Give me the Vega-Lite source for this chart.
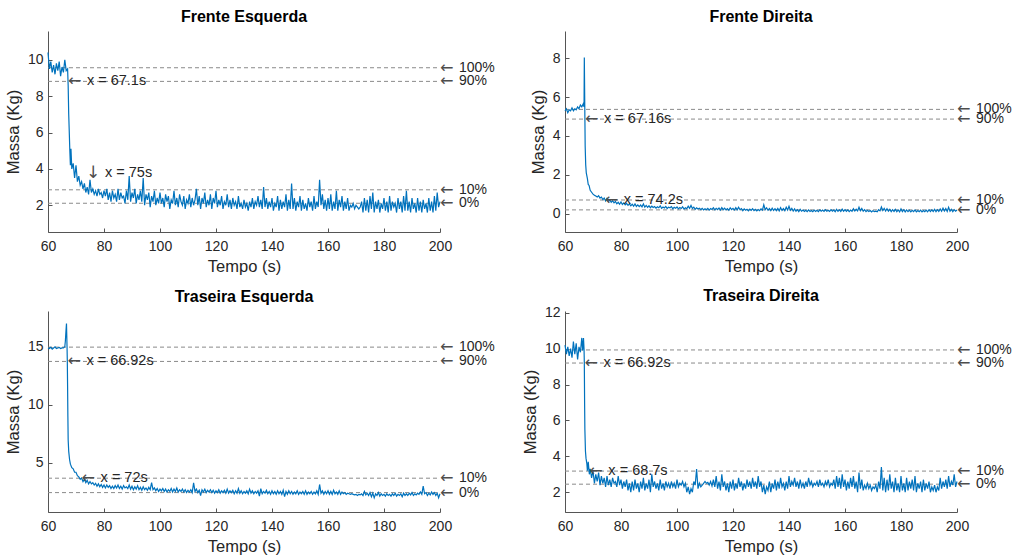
{
"$schema": "https://vega.github.io/schema/vega-lite/v6.json",
"padding": {"left": 5, "top": 9, "right": 5, "bottom": 5},
"config": {
  "font": "Liberation Sans",
  "view": {"stroke": null},
  "axis": {"grid": false, "domainColor": "#555555", "tickColor": "#555555", "labelColor": "#262626", "titleColor": "#262626", "labelFontSize": 14, "titleFontSize": 16.5, "titleFontWeight": "normal", "tickSize": -4, "labelFlush": false, "labelOverlap": false},
  "axisX": {"labelPadding": 11, "titlePadding": 5},
  "axisY": {"labelPadding": 9, "titlePadding": 6},
  "title": {"fontSize": 16, "fontWeight": "bold", "color": "#000000", "offset": 6, "frame": "group"},
  "text": {"fontSize": 14, "color": "#262626"}
},
"datasets": {
"fe": [{"t":60,"m":10.4},{"t":60.5,"m":9.5},{"t":61,"m":9.9},{"t":61.5,"m":9.3},{"t":62,"m":9.7},{"t":62.5,"m":9.2},{"t":63,"m":9.8},{"t":63.5,"m":9.4},{"t":64,"m":9.9},{"t":64.5,"m":9.1},{"t":65,"m":9.6},{"t":65.5,"m":9.3},{"t":66,"m":10.0},{"t":66.5,"m":9.4},{"t":67,"m":9.5},{"t":67.2,"m":8.6},{"t":67.4,"m":7.0},{"t":67.6,"m":6.0},{"t":67.8,"m":5.0},{"t":68,"m":4.2},{"t":68.2,"m":5.1},{"t":68.5,"m":4.0},{"t":69,"m":4.3},{"t":69.5,"m":3.5},{"t":70,"m":4.2},{"t":70.5,"m":3.3},{"t":71,"m":3.6},{"t":71.5,"m":3.1},{"t":72,"m":3.3},{"t":72.5,"m":2.9},{"t":73,"m":3.2},{"t":73.5,"m":2.7},{"t":74,"m":3.0},{"t":74.5,"m":2.6},{"t":75,"m":3.4},{"t":75.5,"m":2.7},{"t":76,"m":2.9},{"t":76.5,"m":2.6},{"t":77,"m":2.8},{"t":77.5,"m":2.5},{"t":78,"m":2.9},{"t":78.5,"m":2.6},{"t":79,"m":2.7},{"t":79.5,"m":2.4},{"t":80,"m":2.8},{"t":80.5,"m":2.5},{"t":81,"m":2.9},{"t":81.5,"m":2.3},{"t":82,"m":2.7},{"t":82.5,"m":2.2},{"t":83,"m":2.8},{"t":83.5,"m":2.4},{"t":84,"m":2.6},{"t":84.5,"m":2.2},{"t":85,"m":2.9},{"t":85.5,"m":2.3},{"t":86,"m":2.7},{"t":86.5,"m":2.4},{"t":87,"m":2.5},{"t":87.5,"m":2.1},{"t":88,"m":2.8},{"t":88.5,"m":2.3},{"t":89,"m":3.6},{"t":89.5,"m":2.2},{"t":90,"m":2.7},{"t":90.5,"m":2.4},{"t":91,"m":2.9},{"t":91.5,"m":2.1},{"t":92,"m":2.6},{"t":92.5,"m":2.3},{"t":93,"m":2.8},{"t":93.5,"m":2.2},{"t":94,"m":3.5},{"t":94.5,"m":2.0},{"t":95,"m":2.6},{"t":95.5,"m":2.3},{"t":96,"m":2.7},{"t":96.5,"m":1.9},{"t":97,"m":2.5},{"t":97.5,"m":2.2},{"t":98,"m":2.8},{"t":98.5,"m":2.0},{"t":99,"m":2.4},{"t":99.5,"m":2.1},
{"t":100,"m":2.7},{"t":100.5,"m":2.1},{"t":101,"m":2.4},{"t":101.5,"m":1.9},{"t":102,"m":2.6},{"t":102.5,"m":2.2},{"t":103,"m":2.5},{"t":103.5,"m":1.8},{"t":104,"m":2.3},{"t":104.5,"m":2.1},{"t":105,"m":2.8},{"t":105.5,"m":2.0},{"t":106,"m":2.4},{"t":106.5,"m":1.9},{"t":107,"m":2.6},{"t":107.5,"m":2.2},{"t":108,"m":2.0},{"t":108.5,"m":2.5},{"t":109,"m":1.8},{"t":109.5,"m":2.3},{"t":110,"m":2.1},{"t":110.5,"m":2.6},{"t":111,"m":1.9},{"t":111.5,"m":2.4},{"t":112,"m":2.0},{"t":112.5,"m":2.3},{"t":113,"m":2.9},{"t":113.5,"m":2.0},{"t":114,"m":2.5},{"t":114.5,"m":1.8},{"t":115,"m":2.4},{"t":115.5,"m":2.1},{"t":116,"m":2.7},{"t":116.5,"m":1.9},{"t":117,"m":2.3},{"t":117.5,"m":2.0},{"t":118,"m":2.6},{"t":118.5,"m":1.8},{"t":119,"m":2.4},{"t":119.5,"m":2.1},{"t":120,"m":2.8},{"t":120.5,"m":1.9},{"t":121,"m":2.3},{"t":121.5,"m":2.0},{"t":122,"m":2.5},{"t":122.5,"m":1.8},{"t":123,"m":2.2},{"t":123.5,"m":2.0},{"t":124,"m":2.6},{"t":124.5,"m":1.9},{"t":125,"m":2.3},{"t":125.5,"m":1.8},{"t":126,"m":2.4},{"t":126.5,"m":2.0},{"t":127,"m":2.2},{"t":127.5,"m":1.8},{"t":128,"m":2.5},{"t":128.5,"m":1.9},{"t":129,"m":2.1},{"t":129.5,"m":1.8},{"t":130,"m":2.3},{"t":130.5,"m":1.9},{"t":131,"m":2.1},{"t":131.5,"m":1.7},{"t":132,"m":2.2},{"t":132.5,"m":1.9},{"t":133,"m":2.4},{"t":133.5,"m":1.8},{"t":134,"m":2.2},{"t":134.5,"m":2.0},{"t":135,"m":2.5},{"t":135.5,"m":1.9},{"t":136,"m":2.3},{"t":136.5,"m":1.8},{"t":137,"m":3.0},{"t":137.5,"m":1.9},{"t":138,"m":2.4},{"t":138.5,"m":1.8},{"t":139,"m":2.2},{"t":139.5,"m":1.9},{"t":140,"m":2.4},{"t":140.5,"m":1.7},{"t":141,"m":2.1},{"t":141.5,"m":1.9},{"t":142,"m":2.5},{"t":142.5,"m":1.7},{"t":143,"m":2.3},{"t":143.5,"m":1.8},{"t":144,"m":2.2},{"t":144.5,"m":1.9},{"t":145,"m":2.6},{"t":145.5,"m":1.7},{"t":146,"m":2.3},{"t":146.5,"m":1.8},{"t":147,"m":3.2},{"t":147.5,"m":1.8},{"t":148,"m":2.4},{"t":148.5,"m":1.7},{"t":149,"m":2.2},{"t":149.5,"m":1.9},{"t":150,"m":2.5},{"t":150.5,"m":1.7},{"t":151,"m":2.3},{"t":151.5,"m":1.8},{"t":152,"m":2.1},{"t":152.5,"m":1.7},{"t":153,"m":2.4},{"t":153.5,"m":1.9},{"t":154,"m":2.2},{"t":154.5,"m":1.7},{"t":155,"m":2.5},{"t":155.5,"m":1.8},{"t":156,"m":2.2},{"t":156.5,"m":1.9},{"t":157,"m":3.4},{"t":157.5,"m":2.0},{"t":158,"m":2.6},{"t":158.5,"m":1.8},{"t":159,"m":2.3},{"t":159.5,"m":1.7},{"t":160,"m":2.4},{"t":160.5,"m":1.8},{"t":161,"m":2.6},{"t":161.5,"m":1.7},{"t":162,"m":2.2},{"t":162.5,"m":1.8},{"t":163,"m":2.8},{"t":163.5,"m":1.7},{"t":164,"m":2.3},{"t":164.5,"m":1.9},{"t":165,"m":2.5},{"t":165.5,"m":1.7},{"t":166,"m":2.2},{"t":166.5,"m":1.8},{"t":167,"m":2.4},{"t":167.5,"m":1.7},{"t":168,"m":2.0},{"t":168.5,"m":1.9},{"t":169,"m":2.1},{"t":169.5,"m":1.8},{"t":170,"m":2.0},{"t":170.5,"m":1.9},{"t":171,"m":1.8},{"t":171.5,"m":1.9},{"t":172,"m":2.2},{"t":172.5,"m":1.6},{"t":173,"m":2.4},{"t":173.5,"m":1.7},{"t":174,"m":2.3},{"t":174.5,"m":1.6},{"t":175,"m":2.5},{"t":175.5,"m":1.8},{"t":176,"m":2.7},{"t":176.5,"m":1.6},{"t":177,"m":2.2},{"t":177.5,"m":1.8},{"t":178,"m":2.3},{"t":178.5,"m":1.6},{"t":179,"m":2.1},{"t":179.5,"m":1.8},{"t":180,"m":2.4},{"t":180.5,"m":1.7},{"t":181,"m":2.2},{"t":181.5,"m":1.6},{"t":182,"m":2.5},{"t":182.5,"m":1.7},{"t":183,"m":2.2},{"t":183.5,"m":1.9},{"t":184,"m":2.1},{"t":184.5,"m":1.6},{"t":185,"m":2.4},{"t":185.5,"m":1.8},{"t":186,"m":2.2},{"t":186.5,"m":1.6},{"t":187,"m":2.5},{"t":187.5,"m":1.7},{"t":188,"m":2.8},{"t":188.5,"m":1.7},{"t":189,"m":2.2},{"t":189.5,"m":1.6},{"t":190,"m":2.4},{"t":190.5,"m":1.8},{"t":191,"m":2.1},{"t":191.5,"m":1.6},{"t":192,"m":2.4},{"t":192.5,"m":1.7},{"t":193,"m":2.2},{"t":193.5,"m":1.6},{"t":194,"m":2.3},{"t":194.5,"m":1.8},{"t":195,"m":2.1},{"t":195.5,"m":1.6},{"t":196,"m":2.4},{"t":196.5,"m":1.7},{"t":197,"m":2.2},{"t":197.5,"m":1.6},{"t":198,"m":2.5},{"t":198.5,"m":1.7},{"t":199,"m":2.7},{"t":199.5,"m":1.9},{"t":200,"m":2.2}],
"fd": [{"t":60,"m":5.3},{"t":60.5,"m":5.4},{"t":61,"m":5.2},{"t":61.5,"m":5.35},{"t":62,"m":5.3},{"t":62.5,"m":5.45},{"t":63,"m":5.3},{"t":63.5,"m":5.4},{"t":64,"m":5.35},{"t":64.5,"m":5.5},{"t":65,"m":5.4},{"t":65.5,"m":5.6},{"t":66,"m":5.5},{"t":66.5,"m":5.65},{"t":66.8,"m":5.5},{"t":66.9,"m":8.05},{"t":67,"m":6.5},{"t":67.1,"m":5.0},{"t":67.2,"m":3.5},{"t":67.4,"m":2.5},{"t":67.6,"m":2.1},{"t":68,"m":1.8},{"t":68.3,"m":1.5},{"t":68.6,"m":1.45},{"t":69,"m":1.2},{"t":69.5,"m":1.1},{"t":70,"m":1.0},{"t":70.5,"m":0.95},{"t":71,"m":0.9},{"t":71.5,"m":0.85},{"t":72,"m":0.92},{"t":72.5,"m":0.8},{"t":73,"m":0.85},{"t":73.5,"m":0.72},{"t":74,"m":0.8},{"t":74.5,"m":0.65},{"t":75,"m":0.78},{"t":75.5,"m":0.62},{"t":76,"m":0.7},{"t":76.5,"m":0.58},{"t":77,"m":0.66},{"t":77.5,"m":0.55},{"t":78,"m":0.62},{"t":78.5,"m":0.5},{"t":79,"m":0.58},{"t":79.5,"m":0.48},{"t":80,"m":0.6},{"t":80.5,"m":0.47},{"t":81,"m":0.55},{"t":81.5,"m":0.45},{"t":82,"m":0.52},{"t":82.5,"m":0.42},{"t":83,"m":0.5},{"t":83.5,"m":0.4},{"t":84,"m":0.48},{"t":84.5,"m":0.38},{"t":85,"m":0.5},{"t":85.5,"m":0.37},{"t":86,"m":0.45},{"t":86.5,"m":0.36},{"t":87,"m":0.44},{"t":87.5,"m":0.35},{"t":88,"m":0.5},{"t":88.5,"m":0.33},{"t":89,"m":0.42},{"t":89.5,"m":0.32},
{"t":90,"m":0.4},{"t":90.5,"m":0.3},{"t":91,"m":0.38},{"t":91.5,"m":0.31},{"t":92,"m":0.36},{"t":92.5,"m":0.28},{"t":93,"m":0.35},{"t":93.5,"m":0.3},{"t":94,"m":0.4},{"t":94.5,"m":0.27},{"t":95,"m":0.34},{"t":95.5,"m":0.29},{"t":96,"m":0.37},{"t":96.5,"m":0.26},{"t":97,"m":0.33},{"t":97.5,"m":0.3},{"t":98,"m":0.36},{"t":98.5,"m":0.25},{"t":99,"m":0.32},{"t":99.5,"m":0.27},{"t":100,"m":0.34},{"t":100.5,"m":0.24},{"t":101,"m":0.31},{"t":101.5,"m":0.26},{"t":102,"m":0.35},{"t":102.5,"m":0.23},{"t":103,"m":0.3},{"t":103.5,"m":0.25},{"t":104,"m":0.38},{"t":104.5,"m":0.27},{"t":105,"m":0.42},{"t":105.5,"m":0.26},{"t":106,"m":0.33},{"t":106.5,"m":0.22},{"t":107,"m":0.3},{"t":107.5,"m":0.24},{"t":108,"m":0.28},{"t":108.5,"m":0.2},{"t":109,"m":0.27},{"t":109.5,"m":0.19},{"t":110,"m":0.25},{"t":110.5,"m":0.2},{"t":111,"m":0.27},{"t":111.5,"m":0.18},{"t":112,"m":0.26},{"t":112.5,"m":0.21},{"t":113,"m":0.3},{"t":113.5,"m":0.19},{"t":114,"m":0.27},{"t":114.5,"m":0.2},{"t":115,"m":0.29},{"t":115.5,"m":0.18},{"t":116,"m":0.31},{"t":116.5,"m":0.2},{"t":117,"m":0.28},{"t":117.5,"m":0.19},{"t":118,"m":0.26},{"t":118.5,"m":0.17},{"t":119,"m":0.3},{"t":119.5,"m":0.2},{"t":120,"m":0.27},{"t":120.5,"m":0.18},{"t":121,"m":0.3},{"t":121.5,"m":0.19},{"t":122,"m":0.33},{"t":122.5,"m":0.2},{"t":123,"m":0.26},{"t":123.5,"m":0.15},{"t":124,"m":0.24},{"t":124.5,"m":0.17},{"t":125,"m":0.22},{"t":125.5,"m":0.14},{"t":126,"m":0.23},{"t":126.5,"m":0.16},{"t":127,"m":0.25},{"t":127.5,"m":0.15},{"t":128,"m":0.22},{"t":128.5,"m":0.14},{"t":129,"m":0.21},{"t":129.5,"m":0.15},{"t":130,"m":0.24},{"t":130.5,"m":0.18},{"t":131,"m":0.45},{"t":131.5,"m":0.2},{"t":132,"m":0.3},{"t":132.5,"m":0.17},{"t":133,"m":0.26},{"t":133.5,"m":0.15},{"t":134,"m":0.28},{"t":134.5,"m":0.16},{"t":135,"m":0.25},{"t":135.5,"m":0.15},{"t":136,"m":0.27},{"t":136.5,"m":0.14},{"t":137,"m":0.3},{"t":137.5,"m":0.16},{"t":138,"m":0.26},{"t":138.5,"m":0.15},{"t":139,"m":0.33},{"t":139.5,"m":0.18},{"t":140,"m":0.38},{"t":140.5,"m":0.17},{"t":141,"m":0.27},{"t":141.5,"m":0.13},{"t":142,"m":0.24},{"t":142.5,"m":0.12},{"t":143,"m":0.2},{"t":143.5,"m":0.1},{"t":144,"m":0.22},{"t":144.5,"m":0.12},{"t":145,"m":0.18},{"t":145.5,"m":0.11},{"t":146,"m":0.17},{"t":146.5,"m":0.1},{"t":147,"m":0.19},{"t":147.5,"m":0.11},{"t":148,"m":0.16},{"t":148.5,"m":0.1},{"t":149,"m":0.18},{"t":149.5,"m":0.11},{"t":150,"m":0.17},{"t":150.5,"m":0.1},{"t":151,"m":0.19},{"t":151.5,"m":0.12},{"t":152,"m":0.18},{"t":152.5,"m":0.11},{"t":153,"m":0.2},{"t":153.5,"m":0.12},{"t":154,"m":0.17},{"t":154.5,"m":0.11},{"t":155,"m":0.2},{"t":155.5,"m":0.12},{"t":156,"m":0.18},{"t":156.5,"m":0.1},{"t":157,"m":0.22},{"t":157.5,"m":0.12},{"t":158,"m":0.19},{"t":158.5,"m":0.11},{"t":159,"m":0.23},{"t":159.5,"m":0.12},{"t":160,"m":0.2},{"t":160.5,"m":0.11},{"t":161,"m":0.19},{"t":161.5,"m":0.1},{"t":162,"m":0.18},{"t":162.5,"m":0.12},{"t":163,"m":0.25},{"t":163.5,"m":0.13},{"t":164,"m":0.22},{"t":164.5,"m":0.14},{"t":165,"m":0.33},{"t":165.5,"m":0.15},{"t":166,"m":0.26},{"t":166.5,"m":0.12},{"t":167,"m":0.2},{"t":167.5,"m":0.1},{"t":168,"m":0.17},{"t":168.5,"m":0.11},{"t":169,"m":0.16},{"t":169.5,"m":0.09},{"t":170,"m":0.15},{"t":170.5,"m":0.1},{"t":171,"m":0.12},{"t":171.5,"m":0.09},{"t":172,"m":0.2},{"t":172.5,"m":0.14},{"t":173,"m":0.34},{"t":173.5,"m":0.16},{"t":174,"m":0.27},{"t":174.5,"m":0.13},{"t":175,"m":0.25},{"t":175.5,"m":0.12},{"t":176,"m":0.22},{"t":176.5,"m":0.1},{"t":177,"m":0.2},{"t":177.5,"m":0.11},{"t":178,"m":0.22},{"t":178.5,"m":0.1},{"t":179,"m":0.19},{"t":179.5,"m":0.09},{"t":180,"m":0.24},{"t":180.5,"m":0.1},{"t":181,"m":0.2},{"t":181.5,"m":0.09},{"t":182,"m":0.19},{"t":182.5,"m":0.1},{"t":183,"m":0.18},{"t":183.5,"m":0.09},{"t":184,"m":0.17},{"t":184.5,"m":0.1},{"t":185,"m":0.19},{"t":185.5,"m":0.09},{"t":186,"m":0.16},{"t":186.5,"m":0.1},{"t":187,"m":0.18},{"t":187.5,"m":0.09},{"t":188,"m":0.16},{"t":188.5,"m":0.1},{"t":189,"m":0.18},{"t":189.5,"m":0.09},{"t":190,"m":0.2},{"t":190.5,"m":0.1},{"t":191,"m":0.19},{"t":191.5,"m":0.11},{"t":192,"m":0.22},{"t":192.5,"m":0.1},{"t":193,"m":0.2},{"t":193.5,"m":0.11},{"t":194,"m":0.24},{"t":194.5,"m":0.12},{"t":195,"m":0.28},{"t":195.5,"m":0.13},{"t":196,"m":0.26},{"t":196.5,"m":0.11},{"t":197,"m":0.32},{"t":197.5,"m":0.12},{"t":198,"m":0.22},{"t":198.5,"m":0.1},{"t":199,"m":0.2},{"t":199.5,"m":0.12},{"t":200,"m":0.18}],
"te": [{"t":60,"m":14.9},{"t":60.5,"m":14.85},{"t":61,"m":14.95},{"t":61.5,"m":14.8},{"t":62,"m":14.9},{"t":62.5,"m":15.0},{"t":63,"m":14.85},{"t":63.5,"m":14.9},{"t":64,"m":14.95},{"t":64.5,"m":14.85},{"t":65,"m":14.9},{"t":65.5,"m":14.9},{"t":66,"m":15.0},{"t":66.2,"m":15.5},{"t":66.4,"m":16.3},{"t":66.6,"m":17.0},{"t":66.7,"m":16.0},{"t":66.8,"m":15.0},{"t":66.9,"m":13.7},{"t":67,"m":11.5},{"t":67.1,"m":9.0},{"t":67.2,"m":7.0},{"t":67.4,"m":6.0},{"t":67.7,"m":5.3},{"t":68,"m":4.9},{"t":68.5,"m":4.6},{"t":69,"m":4.5},{"t":69.5,"m":4.2},{"t":70,"m":4.2},{"t":70.5,"m":3.9},{"t":71,"m":3.8},{"t":71.5,"m":3.6},{"t":72,"m":3.7},{"t":72.5,"m":3.4},{"t":73,"m":3.6},{"t":73.5,"m":3.3},{"t":74,"m":3.5},{"t":74.5,"m":3.2},{"t":75,"m":3.4},{"t":75.5,"m":3.2},{"t":76,"m":3.3},{"t":76.5,"m":3.1},{"t":77,"m":3.25},{"t":77.5,"m":3.0},{"t":78,"m":3.2},{"t":78.5,"m":2.95},{"t":79,"m":3.15},{"t":79.5,"m":2.9},{"t":80,"m":3.1},{"t":80.5,"m":2.85},{"t":81,"m":3.1},{"t":81.5,"m":2.9},{"t":82,"m":3.05},{"t":82.5,"m":2.8},
{"t":83,"m":3.0},{"t":83.5,"m":2.8},{"t":84,"m":3.05},{"t":84.5,"m":2.85},{"t":85,"m":3.1},{"t":85.5,"m":2.8},{"t":86,"m":3.0},{"t":86.5,"m":2.75},{"t":87,"m":3.05},{"t":87.5,"m":2.85},{"t":88,"m":2.95},{"t":88.5,"m":2.8},{"t":89,"m":3.1},{"t":89.5,"m":2.75},{"t":90,"m":3.0},{"t":90.5,"m":2.7},{"t":91,"m":2.95},{"t":91.5,"m":2.75},{"t":92,"m":3.05},{"t":92.5,"m":2.7},{"t":93,"m":2.9},{"t":93.5,"m":2.65},{"t":94,"m":2.95},{"t":94.5,"m":2.7},{"t":95,"m":2.85},{"t":95.5,"m":2.65},{"t":96,"m":2.9},{"t":96.5,"m":2.7},{"t":97,"m":3.3},{"t":97.5,"m":2.7},{"t":98,"m":2.85},{"t":98.5,"m":2.6},{"t":99,"m":2.8},{"t":99.5,"m":2.55},{"t":100,"m":2.75},{"t":100.5,"m":2.6},{"t":101,"m":2.8},{"t":101.5,"m":2.55},{"t":102,"m":2.75},{"t":102.5,"m":2.5},{"t":103,"m":2.7},{"t":103.5,"m":2.55},{"t":104,"m":2.8},{"t":104.5,"m":2.5},{"t":105,"m":2.75},{"t":105.5,"m":2.55},{"t":106,"m":2.85},{"t":106.5,"m":2.5},{"t":107,"m":2.7},{"t":107.5,"m":2.55},{"t":108,"m":2.75},{"t":108.5,"m":2.5},{"t":109,"m":2.7},{"t":109.5,"m":2.45},{"t":110,"m":2.65},{"t":110.5,"m":2.5},{"t":111,"m":2.7},{"t":111.5,"m":2.45},{"t":112,"m":3.3},{"t":112.5,"m":2.55},{"t":113,"m":2.75},{"t":113.5,"m":2.45},{"t":114,"m":2.65},{"t":114.5,"m":2.2},{"t":115,"m":2.7},{"t":115.5,"m":2.5},{"t":116,"m":2.75},{"t":116.5,"m":2.45},{"t":117,"m":2.65},{"t":117.5,"m":2.5},{"t":118,"m":2.7},{"t":118.5,"m":2.45},{"t":119,"m":2.65},{"t":119.5,"m":2.4},{"t":120,"m":2.6},{"t":120.5,"m":2.45},{"t":121,"m":2.7},{"t":121.5,"m":2.4},{"t":122,"m":2.6},{"t":122.5,"m":2.45},{"t":123,"m":2.65},{"t":123.5,"m":2.4},{"t":124,"m":2.75},{"t":124.5,"m":2.4},{"t":125,"m":2.6},{"t":125.5,"m":2.45},{"t":126,"m":2.65},{"t":126.5,"m":2.35},{"t":127,"m":2.6},{"t":127.5,"m":2.4},{"t":128,"m":2.8},{"t":128.5,"m":2.4},{"t":129,"m":2.6},{"t":129.5,"m":2.35},{"t":130,"m":2.55},{"t":130.5,"m":2.4},{"t":131,"m":2.6},{"t":131.5,"m":2.35},{"t":132,"m":2.75},{"t":132.5,"m":2.4},{"t":133,"m":2.6},{"t":133.5,"m":2.35},{"t":134,"m":2.55},{"t":134.5,"m":2.4},{"t":135,"m":2.6},{"t":135.5,"m":2.15},{"t":136,"m":2.8},{"t":136.5,"m":2.35},{"t":137,"m":2.55},{"t":137.5,"m":2.4},{"t":138,"m":2.65},{"t":138.5,"m":2.35},{"t":139,"m":2.55},{"t":139.5,"m":2.3},{"t":140,"m":2.6},{"t":140.5,"m":2.35},{"t":141,"m":2.55},{"t":141.5,"m":2.3},{"t":142,"m":2.6},{"t":142.5,"m":2.35},{"t":143,"m":2.55},{"t":143.5,"m":2.3},{"t":144,"m":2.65},{"t":144.5,"m":2.1},{"t":145,"m":2.55},{"t":145.5,"m":2.3},{"t":146,"m":2.6},{"t":146.5,"m":2.35},{"t":147,"m":2.55},{"t":147.5,"m":2.3},{"t":148,"m":2.5},{"t":148.5,"m":2.35},{"t":149,"m":2.6},{"t":149.5,"m":2.3},{"t":150,"m":2.5},{"t":150.5,"m":2.35},{"t":151,"m":2.55},{"t":151.5,"m":2.3},{"t":152,"m":2.6},{"t":152.5,"m":2.3},{"t":153,"m":2.5},{"t":153.5,"m":2.35},{"t":154,"m":2.55},{"t":154.5,"m":2.3},{"t":155,"m":2.5},{"t":155.5,"m":2.35},{"t":156,"m":2.6},{"t":156.5,"m":2.3},{"t":157,"m":3.15},{"t":157.5,"m":2.4},{"t":158,"m":2.6},{"t":158.5,"m":2.3},{"t":159,"m":2.55},{"t":159.5,"m":2.35},{"t":160,"m":2.6},{"t":160.5,"m":2.3},{"t":161,"m":2.55},{"t":161.5,"m":2.3},{"t":162,"m":2.65},{"t":162.5,"m":2.35},{"t":163,"m":2.5},{"t":163.5,"m":2.3},{"t":164,"m":2.6},{"t":164.5,"m":2.3},{"t":165,"m":2.5},{"t":165.5,"m":2.35},{"t":166,"m":2.45},{"t":166.5,"m":2.3},{"t":167,"m":2.4},{"t":167.5,"m":2.35},{"t":168,"m":2.3},{"t":168.5,"m":2.35},{"t":169,"m":2.3},{"t":169.5,"m":2.25},{"t":170,"m":2.3},{"t":170.5,"m":2.2},{"t":171,"m":2.3},{"t":171.5,"m":2.25},{"t":172,"m":2.35},{"t":172.5,"m":2.2},{"t":173,"m":2.55},{"t":173.5,"m":2.25},{"t":174,"m":2.4},{"t":174.5,"m":2.2},{"t":175,"m":2.45},{"t":175.5,"m":2.1},{"t":176,"m":2.4},{"t":176.5,"m":2.0},{"t":177,"m":2.35},{"t":177.5,"m":2.2},{"t":178,"m":2.45},{"t":178.5,"m":2.15},{"t":179,"m":2.35},{"t":179.5,"m":2.2},{"t":180,"m":2.3},{"t":180.5,"m":2.15},{"t":181,"m":2.35},{"t":181.5,"m":2.2},{"t":182,"m":2.3},{"t":182.5,"m":2.15},{"t":183,"m":2.35},{"t":183.5,"m":2.2},{"t":184,"m":2.4},{"t":184.5,"m":2.15},{"t":185,"m":2.3},{"t":185.5,"m":2.2},{"t":186,"m":2.35},{"t":186.5,"m":2.1},{"t":187,"m":2.4},{"t":187.5,"m":2.2},{"t":188,"m":2.35},{"t":188.5,"m":2.2},{"t":189,"m":2.4},{"t":189.5,"m":2.25},{"t":190,"m":2.45},{"t":190.5,"m":2.2},{"t":191,"m":2.35},{"t":191.5,"m":2.25},{"t":192,"m":2.4},{"t":192.5,"m":2.3},{"t":193,"m":2.5},{"t":193.5,"m":2.3},{"t":194,"m":3.0},{"t":194.5,"m":2.35},{"t":195,"m":2.45},{"t":195.5,"m":2.2},{"t":196,"m":2.4},{"t":196.5,"m":2.25},{"t":197,"m":2.5},{"t":197.5,"m":2.3},{"t":198,"m":2.45},{"t":198.5,"m":2.2},{"t":199,"m":2.4},{"t":199.5,"m":2.0},{"t":200,"m":2.35}],
"td": [{"t":60,"m":10.2},{"t":60.5,"m":9.7},{"t":61,"m":10.1},{"t":61.5,"m":9.6},{"t":62,"m":10.0},{"t":62.5,"m":9.5},{"t":63,"m":10.4},{"t":63.5,"m":9.7},{"t":64,"m":10.3},{"t":64.5,"m":9.4},{"t":65,"m":10.1},{"t":65.5,"m":9.8},{"t":66,"m":10.6},{"t":66.3,"m":9.9},{"t":66.6,"m":10.6},{"t":66.8,"m":10.0},{"t":66.9,"m":9.2},{"t":67,"m":7.0},{"t":67.1,"m":5.5},{"t":67.3,"m":4.3},{"t":67.5,"m":3.9},{"t":67.8,"m":3.6},{"t":68,"m":3.2},{"t":68.3,"m":3.7},{"t":68.7,"m":3.0},{"t":69,"m":3.3},{"t":69.5,"m":2.8},{"t":70,"m":3.2},{"t":70.5,"m":2.5},{"t":71,"m":3.0},{"t":71.5,"m":2.6},{"t":72,"m":3.1},{"t":72.5,"m":2.4},{"t":73,"m":2.9},{"t":73.5,"m":2.5},
{"t":74,"m":2.8},{"t":74.5,"m":2.3},{"t":75,"m":2.9},{"t":75.5,"m":2.4},{"t":76,"m":2.7},{"t":76.5,"m":2.3},{"t":77,"m":2.8},{"t":77.5,"m":2.5},{"t":78,"m":2.6},{"t":78.5,"m":2.3},{"t":79,"m":2.9},{"t":79.5,"m":2.4},{"t":80,"m":2.7},{"t":80.5,"m":2.2},{"t":81,"m":2.6},{"t":81.5,"m":2.3},{"t":82,"m":2.7},{"t":82.5,"m":2.1},{"t":83,"m":2.5},{"t":83.5,"m":2.0},{"t":84,"m":2.6},{"t":84.5,"m":2.1},{"t":85,"m":2.7},{"t":85.5,"m":2.2},{"t":86,"m":2.5},{"t":86.5,"m":2.0},{"t":87,"m":2.6},{"t":87.5,"m":2.2},{"t":88,"m":2.8},{"t":88.5,"m":2.1},{"t":89,"m":2.5},{"t":89.5,"m":2.2},{"t":90,"m":2.7},{"t":90.5,"m":2.0},{"t":91,"m":3.0},{"t":91.5,"m":2.3},{"t":92,"m":2.6},{"t":92.5,"m":2.2},{"t":93,"m":2.5},{"t":93.5,"m":2.1},{"t":94,"m":2.7},{"t":94.5,"m":2.2},{"t":95,"m":2.5},{"t":95.5,"m":2.1},{"t":96,"m":2.6},{"t":96.5,"m":2.3},{"t":97,"m":2.5},{"t":97.5,"m":2.2},{"t":98,"m":2.6},{"t":98.5,"m":2.3},{"t":99,"m":2.5},{"t":99.5,"m":2.2},{"t":100,"m":2.7},{"t":100.5,"m":2.3},{"t":101,"m":2.5},{"t":101.5,"m":2.4},{"t":102,"m":2.6},{"t":102.5,"m":2.3},{"t":103,"m":2.5},{"t":103.5,"m":2.0},{"t":104,"m":2.3},{"t":104.5,"m":1.9},{"t":105,"m":2.2},{"t":105.5,"m":2.0},{"t":106,"m":2.6},{"t":106.5,"m":2.4},{"t":107,"m":3.3},{"t":107.5,"m":2.2},{"t":108,"m":2.5},{"t":108.5,"m":2.3},{"t":109,"m":2.4},{"t":109.5,"m":2.5},{"t":110,"m":2.6},{"t":110.5,"m":2.5},{"t":111,"m":2.55},{"t":111.5,"m":2.4},{"t":112,"m":2.6},{"t":112.5,"m":2.35},{"t":113,"m":2.7},{"t":113.5,"m":2.3},{"t":114,"m":2.9},{"t":114.5,"m":2.2},{"t":115,"m":2.6},{"t":115.5,"m":2.1},{"t":116,"m":3.0},{"t":116.5,"m":2.3},{"t":117,"m":2.6},{"t":117.5,"m":2.1},{"t":118,"m":2.5},{"t":118.5,"m":2.0},{"t":119,"m":2.6},{"t":119.5,"m":2.2},{"t":120,"m":2.7},{"t":120.5,"m":2.1},{"t":121,"m":2.5},{"t":121.5,"m":2.2},{"t":122,"m":2.8},{"t":122.5,"m":2.3},{"t":123,"m":2.6},{"t":123.5,"m":2.1},{"t":124,"m":2.5},{"t":124.5,"m":2.2},{"t":125,"m":2.7},{"t":125.5,"m":2.3},{"t":126,"m":2.6},{"t":126.5,"m":2.2},{"t":127,"m":2.8},{"t":127.5,"m":2.3},{"t":128,"m":2.6},{"t":128.5,"m":2.2},{"t":129,"m":2.9},{"t":129.5,"m":2.3},{"t":130,"m":2.6},{"t":130.5,"m":2.0},{"t":131,"m":2.4},{"t":131.5,"m":1.9},{"t":132,"m":2.3},{"t":132.5,"m":2.1},{"t":133,"m":2.6},{"t":133.5,"m":2.0},{"t":134,"m":2.5},{"t":134.5,"m":2.2},{"t":135,"m":2.7},{"t":135.5,"m":2.1},{"t":136,"m":2.6},{"t":136.5,"m":2.2},{"t":137,"m":2.8},{"t":137.5,"m":2.3},{"t":138,"m":2.5},{"t":138.5,"m":2.1},{"t":139,"m":2.6},{"t":139.5,"m":2.2},{"t":140,"m":2.9},{"t":140.5,"m":2.3},{"t":141,"m":2.6},{"t":141.5,"m":2.4},{"t":142,"m":2.8},{"t":142.5,"m":2.3},{"t":143,"m":2.6},{"t":143.5,"m":2.2},{"t":144,"m":2.7},{"t":144.5,"m":2.3},{"t":145,"m":2.5},{"t":145.5,"m":2.2},{"t":146,"m":2.6},{"t":146.5,"m":2.3},{"t":147,"m":2.8},{"t":147.5,"m":2.4},{"t":148,"m":2.6},{"t":148.5,"m":2.3},{"t":149,"m":2.5},{"t":149.5,"m":2.4},{"t":150,"m":2.6},{"t":150.5,"m":2.3},{"t":151,"m":2.7},{"t":151.5,"m":2.4},{"t":152,"m":2.5},{"t":152.5,"m":2.3},{"t":153,"m":2.6},{"t":153.5,"m":2.4},{"t":154,"m":2.7},{"t":154.5,"m":2.3},{"t":155,"m":2.5},{"t":155.5,"m":2.4},{"t":156,"m":2.7},{"t":156.5,"m":2.2},{"t":157,"m":2.9},{"t":157.5,"m":2.3},{"t":158,"m":2.8},{"t":158.5,"m":2.2},{"t":159,"m":3.0},{"t":159.5,"m":2.3},{"t":160,"m":2.7},{"t":160.5,"m":2.1},{"t":161,"m":2.6},{"t":161.5,"m":2.2},{"t":162,"m":2.8},{"t":162.5,"m":2.3},{"t":163,"m":2.9},{"t":163.5,"m":2.2},{"t":164,"m":2.6},{"t":164.5,"m":2.0},{"t":165,"m":3.1},{"t":165.5,"m":2.2},{"t":166,"m":2.7},{"t":166.5,"m":2.1},{"t":167,"m":2.4},{"t":167.5,"m":2.2},{"t":168,"m":2.5},{"t":168.5,"m":2.2},{"t":169,"m":2.4},{"t":169.5,"m":2.1},{"t":170,"m":2.3},{"t":170.5,"m":2.2},{"t":171,"m":2.4},{"t":171.5,"m":2.0},{"t":172,"m":2.6},{"t":172.5,"m":2.2},{"t":173,"m":3.4},{"t":173.5,"m":2.1},{"t":174,"m":2.8},{"t":174.5,"m":2.0},{"t":175,"m":2.7},{"t":175.5,"m":2.1},{"t":176,"m":3.0},{"t":176.5,"m":2.2},{"t":177,"m":2.6},{"t":177.5,"m":2.0},{"t":178,"m":2.8},{"t":178.5,"m":2.1},{"t":179,"m":2.5},{"t":179.5,"m":2.0},{"t":180,"m":2.9},{"t":180.5,"m":2.1},{"t":181,"m":2.5},{"t":181.5,"m":2.0},{"t":182,"m":2.8},{"t":182.5,"m":2.1},{"t":183,"m":2.6},{"t":183.5,"m":2.2},{"t":184,"m":2.7},{"t":184.5,"m":2.1},{"t":185,"m":2.9},{"t":185.5,"m":2.0},{"t":186,"m":2.5},{"t":186.5,"m":2.2},{"t":187,"m":2.6},{"t":187.5,"m":2.0},{"t":188,"m":2.7},{"t":188.5,"m":2.1},{"t":189,"m":2.5},{"t":189.5,"m":2.2},{"t":190,"m":2.6},{"t":190.5,"m":2.0},{"t":191,"m":2.3},{"t":191.5,"m":2.1},{"t":192,"m":2.4},{"t":192.5,"m":2.0},{"t":193,"m":2.3},{"t":193.5,"m":2.1},{"t":194,"m":2.8},{"t":194.5,"m":2.2},{"t":195,"m":2.6},{"t":195.5,"m":2.3},{"t":196,"m":2.7},{"t":196.5,"m":2.2},{"t":197,"m":2.9},{"t":197.5,"m":2.3},{"t":198,"m":2.6},{"t":198.5,"m":2.4},{"t":199,"m":3.0},{"t":199.5,"m":2.3},{"t":200,"m":2.6}],
"lv": [{"p":"FE","m":9.56,"lab":"100%"},{"p":"FE","m":8.81,"lab":"90%"},{"p":"FE","m":2.85,"lab":"10%"},{"p":"FE","m":2.11,"lab":"0%"},
{"p":"FD","m":5.37,"lab":"100%"},{"p":"FD","m":4.87,"lab":"90%"},{"p":"FD","m":0.7,"lab":"10%"},{"p":"FD","m":0.19,"lab":"0%"},
{"p":"TE","m":14.97,"lab":"100%"},{"p":"TE","m":13.74,"lab":"90%"},{"p":"TE","m":3.69,"lab":"10%"},{"p":"TE","m":2.45,"lab":"0%"},
{"p":"TD","m":9.93,"lab":"100%"},{"p":"TD","m":9.2,"lab":"90%"},{"p":"TD","m":3.18,"lab":"10%"},{"p":"TD","m":2.45,"lab":"0%"}],
"an": [{"p":"FE","t":67.1,"m":8.81,"ar":"←","lab":"x = 67.1s"},{"p":"FE","t":75,"m":3.8,"ar":"↓","lab":"x = 75s"},
{"p":"FD","t":67.16,"m":4.87,"ar":"←","lab":"x = 67.16s"},{"p":"FD","t":74.2,"m":0.7,"ar":"←","lab":"x = 74.2s"},
{"p":"TE","t":66.92,"m":13.74,"ar":"←","lab":"x = 66.92s"},{"p":"TE","t":72,"m":3.69,"ar":"←","lab":"x = 72s"},
{"p":"TD","t":66.92,"m":9.2,"ar":"←","lab":"x = 66.92s"},{"p":"TD","t":68.7,"m":3.18,"ar":"←","lab":"x = 68.7s"}]
},
"columns": 2,
"spacing": {"row": 79, "column": 125},
"bounds": "flush",
"concat": [
{
 "title": "Frente Esquerda",
 "width": 392, "height": 201,
 "encoding": {"y": {"field": "m", "type": "quantitative", "scale": {"domain": [0.53, 11.58], "nice": false, "zero": false}, "axis": {"title": "Massa (Kg)", "values": [2,4,6,8,10]}}},
 "layer": [
  {"data": {"name": "lv"}, "transform": [{"filter": "datum.p == 'FE'"}], "mark": {"type": "rule", "color": "#8a8a8a", "strokeDash": [4, 3], "strokeWidth": 1}, "encoding": {"x": {"datum": 60, "type": "quantitative", "scale": {"domain": [60, 200], "nice": false, "zero": false}}, "x2": {"datum": 200}}},
  {"data": {"name": "fe"}, "mark": {"type": "line", "color": "#0072BD", "strokeWidth": 1.2}, "encoding": {"x": {"field": "t", "type": "quantitative", "scale": {"domain": [60, 200], "nice": false, "zero": false}, "axis": {"title": "Tempo (s)", "values": [60,80,100,120,140,160,180,200]}}}},
  {"data": {"name": "lv"}, "transform": [{"filter": "datum.p == 'FE'"}], "mark": {"type": "text", "align": "left", "baseline": "middle", "dx": 0, "fontSize": 16, "font": "DejaVu Sans", "color": "#4d4d4d", "text": "←"}, "encoding": {"x": {"datum": 200, "type": "quantitative", "scale": {"domain": [60, 200], "nice": false, "zero": false}}}},
  {"data": {"name": "lv"}, "transform": [{"filter": "datum.p == 'FE'"}], "mark": {"type": "text", "align": "left", "baseline": "middle", "dx": 19, "fontSize": 14}, "encoding": {"x": {"datum": 200, "type": "quantitative", "scale": {"domain": [60, 200], "nice": false, "zero": false}}, "text": {"field": "lab"}}},
  {"data": {"name": "an"}, "transform": [{"filter": "datum.p == 'FE' && datum.ar == '←'"}], "mark": {"type": "text", "align": "left", "baseline": "middle", "fontSize": 16, "font": "DejaVu Sans", "color": "#4d4d4d"}, "encoding": {"x": {"field": "t", "type": "quantitative", "scale": {"domain": [60, 200], "nice": false, "zero": false}}, "text": {"field": "ar"}}},
  {"data": {"name": "an"}, "transform": [{"filter": "datum.p == 'FE' && datum.ar == '↓'"}], "mark": {"type": "text", "align": "center", "baseline": "middle", "dx": 3, "fontSize": 17, "font": "DejaVu Sans", "color": "#4d4d4d"}, "encoding": {"x": {"field": "t", "type": "quantitative", "scale": {"domain": [60, 200], "nice": false, "zero": false}}, "text": {"field": "ar"}}},
  {"data": {"name": "an"}, "transform": [{"filter": "datum.p == 'FE' && datum.ar == '←'"}], "mark": {"type": "text", "align": "left", "baseline": "middle", "dx": 19, "fontSize": 14.5}, "encoding": {"x": {"field": "t", "type": "quantitative", "scale": {"domain": [60, 200], "nice": false, "zero": false}}, "text": {"field": "lab"}}},
  {"data": {"name": "an"}, "transform": [{"filter": "datum.p == 'FE' && datum.ar == '↓'"}], "mark": {"type": "text", "align": "left", "baseline": "middle", "dx": 15, "fontSize": 14.5}, "encoding": {"x": {"field": "t", "type": "quantitative", "scale": {"domain": [60, 200], "nice": false, "zero": false}}, "text": {"field": "lab"}}}
 ]
},
{
 "title": "Frente Direita",
 "width": 392, "height": 201,
 "encoding": {"y": {"field": "m", "type": "quantitative", "scale": {"domain": [-0.95, 9.41], "nice": false, "zero": false}, "axis": {"title": "Massa (Kg)", "values": [0,2,4,6,8]}}},
 "layer": [
  {"data": {"name": "lv"}, "transform": [{"filter": "datum.p == 'FD'"}], "mark": {"type": "rule", "color": "#8a8a8a", "strokeDash": [4, 3], "strokeWidth": 1}, "encoding": {"x": {"datum": 60, "type": "quantitative", "scale": {"domain": [60, 200], "nice": false, "zero": false}}, "x2": {"datum": 200}}},
  {"data": {"name": "fd"}, "mark": {"type": "line", "color": "#0072BD", "strokeWidth": 1.2}, "encoding": {"x": {"field": "t", "type": "quantitative", "scale": {"domain": [60, 200], "nice": false, "zero": false}, "axis": {"title": "Tempo (s)", "values": [60,80,100,120,140,160,180,200]}}}},
  {"data": {"name": "lv"}, "transform": [{"filter": "datum.p == 'FD'"}], "mark": {"type": "text", "align": "left", "baseline": "middle", "dx": 0, "fontSize": 16, "font": "DejaVu Sans", "color": "#4d4d4d", "text": "←"}, "encoding": {"x": {"datum": 200, "type": "quantitative", "scale": {"domain": [60, 200], "nice": false, "zero": false}}}},
  {"data": {"name": "lv"}, "transform": [{"filter": "datum.p == 'FD'"}], "mark": {"type": "text", "align": "left", "baseline": "middle", "dx": 19, "fontSize": 14}, "encoding": {"x": {"datum": 200, "type": "quantitative", "scale": {"domain": [60, 200], "nice": false, "zero": false}}, "text": {"field": "lab"}}},
  {"data": {"name": "an"}, "transform": [{"filter": "datum.p == 'FD'"}], "mark": {"type": "text", "align": "left", "baseline": "middle", "fontSize": 16, "font": "DejaVu Sans", "color": "#4d4d4d"}, "encoding": {"x": {"field": "t", "type": "quantitative", "scale": {"domain": [60, 200], "nice": false, "zero": false}}, "text": {"field": "ar"}}},
  {"data": {"name": "an"}, "transform": [{"filter": "datum.p == 'FD'"}], "mark": {"type": "text", "align": "left", "baseline": "middle", "dx": 19, "fontSize": 14.5}, "encoding": {"x": {"field": "t", "type": "quantitative", "scale": {"domain": [60, 200], "nice": false, "zero": false}}, "text": {"field": "lab"}}}
 ]
},
{
 "title": "Traseira Esquerda",
 "width": 392, "height": 201,
 "encoding": {"y": {"field": "m", "type": "quantitative", "scale": {"domain": [0.78, 18.08], "nice": false, "zero": false}, "axis": {"title": "Massa (Kg)", "values": [5,10,15]}}},
 "layer": [
  {"data": {"name": "lv"}, "transform": [{"filter": "datum.p == 'TE'"}], "mark": {"type": "rule", "color": "#8a8a8a", "strokeDash": [4, 3], "strokeWidth": 1}, "encoding": {"x": {"datum": 60, "type": "quantitative", "scale": {"domain": [60, 200], "nice": false, "zero": false}}, "x2": {"datum": 200}}},
  {"data": {"name": "te"}, "mark": {"type": "line", "color": "#0072BD", "strokeWidth": 1.2}, "encoding": {"x": {"field": "t", "type": "quantitative", "scale": {"domain": [60, 200], "nice": false, "zero": false}, "axis": {"title": "Tempo (s)", "values": [60,80,100,120,140,160,180,200]}}}},
  {"data": {"name": "lv"}, "transform": [{"filter": "datum.p == 'TE'"}], "mark": {"type": "text", "align": "left", "baseline": "middle", "dx": 0, "fontSize": 16, "font": "DejaVu Sans", "color": "#4d4d4d", "text": "←"}, "encoding": {"x": {"datum": 200, "type": "quantitative", "scale": {"domain": [60, 200], "nice": false, "zero": false}}}},
  {"data": {"name": "lv"}, "transform": [{"filter": "datum.p == 'TE'"}], "mark": {"type": "text", "align": "left", "baseline": "middle", "dx": 19, "fontSize": 14}, "encoding": {"x": {"datum": 200, "type": "quantitative", "scale": {"domain": [60, 200], "nice": false, "zero": false}}, "text": {"field": "lab"}}},
  {"data": {"name": "an"}, "transform": [{"filter": "datum.p == 'TE'"}], "mark": {"type": "text", "align": "left", "baseline": "middle", "fontSize": 16, "font": "DejaVu Sans", "color": "#4d4d4d"}, "encoding": {"x": {"field": "t", "type": "quantitative", "scale": {"domain": [60, 200], "nice": false, "zero": false}}, "text": {"field": "ar"}}},
  {"data": {"name": "an"}, "transform": [{"filter": "datum.p == 'TE'"}], "mark": {"type": "text", "align": "left", "baseline": "middle", "dx": 19, "fontSize": 14.5}, "encoding": {"x": {"field": "t", "type": "quantitative", "scale": {"domain": [60, 200], "nice": false, "zero": false}}, "text": {"field": "lab"}}}
 ]
},
{
 "title": {"text": "Traseira Direita", "offset": 2},
 "width": 392, "height": 201,
 "encoding": {"y": {"field": "m", "type": "quantitative", "scale": {"domain": [0.9, 12.1], "nice": false, "zero": false}, "axis": {"title": "Massa (Kg)", "values": [2,4,6,8,10,12]}}},
 "layer": [
  {"data": {"name": "lv"}, "transform": [{"filter": "datum.p == 'TD'"}], "mark": {"type": "rule", "color": "#8a8a8a", "strokeDash": [4, 3], "strokeWidth": 1}, "encoding": {"x": {"datum": 60, "type": "quantitative", "scale": {"domain": [60, 200], "nice": false, "zero": false}}, "x2": {"datum": 200}}},
  {"data": {"name": "td"}, "mark": {"type": "line", "color": "#0072BD", "strokeWidth": 1.2}, "encoding": {"x": {"field": "t", "type": "quantitative", "scale": {"domain": [60, 200], "nice": false, "zero": false}, "axis": {"title": "Tempo (s)", "values": [60,80,100,120,140,160,180,200]}}}},
  {"data": {"name": "lv"}, "transform": [{"filter": "datum.p == 'TD'"}], "mark": {"type": "text", "align": "left", "baseline": "middle", "dx": 0, "fontSize": 16, "font": "DejaVu Sans", "color": "#4d4d4d", "text": "←"}, "encoding": {"x": {"datum": 200, "type": "quantitative", "scale": {"domain": [60, 200], "nice": false, "zero": false}}}},
  {"data": {"name": "lv"}, "transform": [{"filter": "datum.p == 'TD'"}], "mark": {"type": "text", "align": "left", "baseline": "middle", "dx": 19, "fontSize": 14}, "encoding": {"x": {"datum": 200, "type": "quantitative", "scale": {"domain": [60, 200], "nice": false, "zero": false}}, "text": {"field": "lab"}}},
  {"data": {"name": "an"}, "transform": [{"filter": "datum.p == 'TD'"}], "mark": {"type": "text", "align": "left", "baseline": "middle", "fontSize": 16, "font": "DejaVu Sans", "color": "#4d4d4d"}, "encoding": {"x": {"field": "t", "type": "quantitative", "scale": {"domain": [60, 200], "nice": false, "zero": false}}, "text": {"field": "ar"}}},
  {"data": {"name": "an"}, "transform": [{"filter": "datum.p == 'TD'"}], "mark": {"type": "text", "align": "left", "baseline": "middle", "dx": 19, "fontSize": 14.5}, "encoding": {"x": {"field": "t", "type": "quantitative", "scale": {"domain": [60, 200], "nice": false, "zero": false}}, "text": {"field": "lab"}}}
 ]
}
]
}
